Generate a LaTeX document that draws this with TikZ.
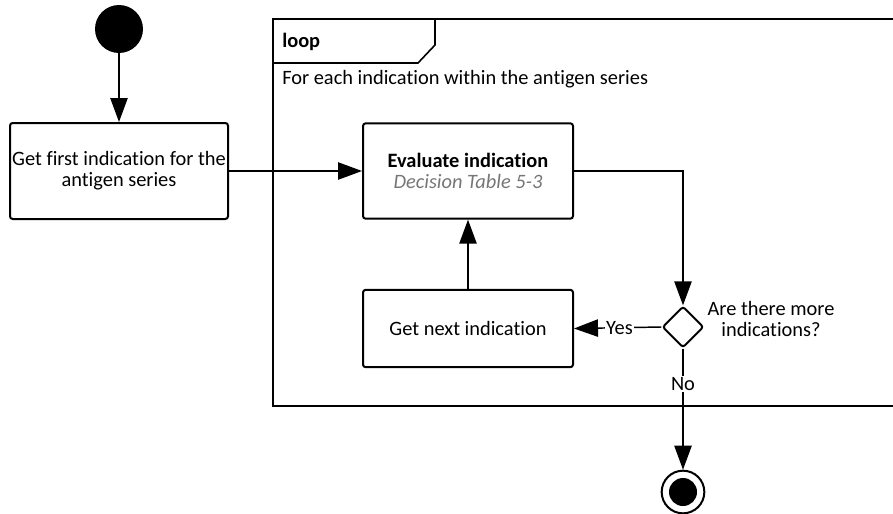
\documentclass[tikz,border=0pt]{standalone}
\usepackage{fontspec}
\setmainfont{Carlito}[Ligatures=NoCommon]
\usetikzlibrary{arrows.meta,shapes.geometric}

\definecolor{notegray}{RGB}{118,118,118}
\tikzset{
	action/.style={draw, line width=1.5pt, rounded corners=2pt, align=center, inner sep=0pt, font=\fontsize{15.3}{15.8}\selectfont},
	decision/.style={diamond, draw, line width=1.5pt, rounded corners=2pt, inner sep=0pt, minimum width=31pt, minimum height=31pt},
	flow/.style={line width=1.1pt, -{Triangle[length=18pt, width=13pt]}},
	guard/.style={fill=white, inner sep=1pt, font=\fontsize{15.3}{15.8}\selectfont},
	plain/.style={align=center, inner sep=0pt, font=\fontsize{15.3}{15.8}\selectfont},
}

\begin{document}
\begin{tikzpicture}[x=0.75pt, y=-0.75pt]
			%%%%% START %%%%%
			\useasboundingbox (0, 0) rectangle (893, 514);
			
			% loop frame
			\draw[line width=1.2pt] (273, 19) rectangle (897, 406);
			\draw[line width=1.2pt] (273, 63) -- (418, 63) -- (435, 45) -- (435, 19);
			\node[plain, anchor=west, font=\fontsize{15.3}{15.8}\selectfont\bfseries] (looptag) at (282, 42) {loop};
			\node[plain, anchor=west] (loopcond) at (282, 79) {For each indication within the antigen series};
			
			\node[circle, fill=black, minimum size=36pt, inner sep=0pt] (start) at (119, 29) {};
			\node[action, minimum width=163.5pt, minimum height=72pt] (first) at (119, 171) {Get first indication for the\\antigen series};
			\node[action, minimum width=157.5pt, minimum height=71.5pt] (eval) at (468, 171) {\textbf{Evaluate indication}\\\textcolor{notegray}{\textit{Decision Table 5-3}}};
			\node[action, minimum width=157.5pt, minimum height=58pt] (next) at (468, 328.5) {Get next indication};
			\node[decision] (decide) at (683, 327) {};
			\node[plain] (question) at (771, 319) {Are there more\\indications?};
			
			\node[circle, draw, line width=1.5pt, minimum size=32pt, inner sep=0pt] (end) at (683, 492) {};
			\fill[black] (end) circle[radius=10.5pt];
			
			\draw[flow] (start) -- (first);
			\draw[flow] (first) -- (eval);
			\draw[flow] (eval.east) -| (decide.north);
			\draw[flow] (decide.west) -- node[guard, pos=0.48] {Yes} (next.east);
			\draw[flow] (next) -- (eval);
			\draw[flow] (decide.south) -- node[guard, pos=0.29] {No} (end);
			
			%%%%% END %%%%%
\end{tikzpicture}
\end{document}
